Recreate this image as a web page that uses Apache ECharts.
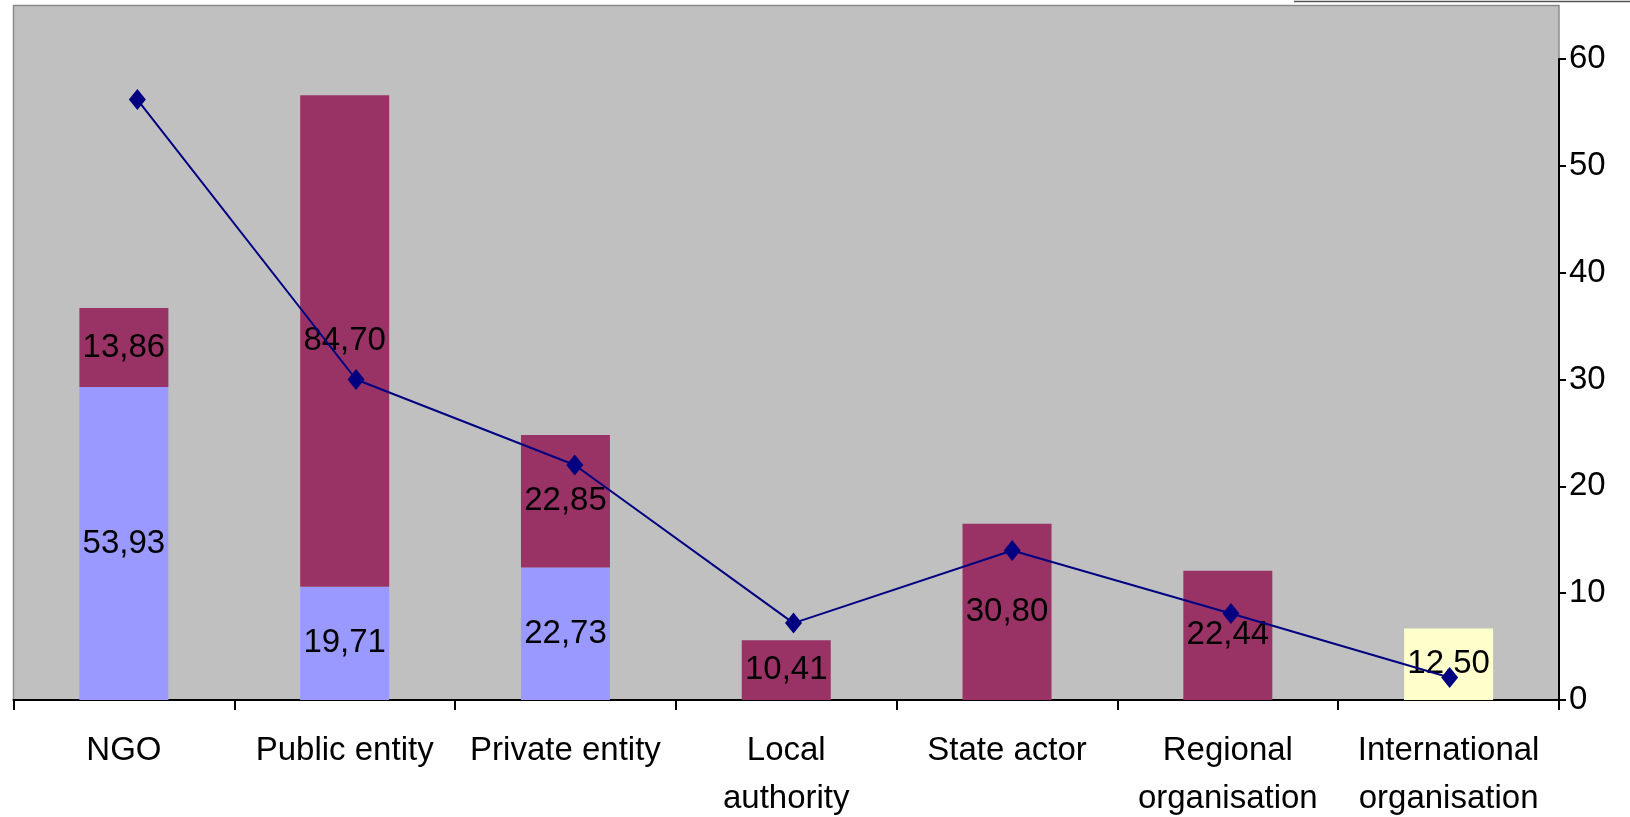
<!DOCTYPE html>
<html>
<head>
<meta charset="utf-8">
<script src="https://cdn.jsdelivr.net/npm/echarts@6/dist/echarts.min.js"></script>
<style>
  html, body { margin: 0; padding: 0; background: #fff; }
  #chart { width: 1630px; height: 817px; }
</style>
</head>
<body>
<div id="chart"></div>
<script>
const categories = ['NGO', 'Public entity', 'Private entity', 'Local\nauthority', 'State actor', 'Regional\norganisation', 'International\norganisation']

// bar segment heights
const lowerValues = [29.3, 10.6, 12.4, null, null, null, null]
const upperValues = [7.4, 46.0, 12.4, 5.6, 16.5, 12.1, null]
const intlValues = [null, null, null, null, null, null, 6.7]

// the printed labels do not match the heights, so they are kept as given
const lowerLabels = ['53,93', '19,71', '22,73', '', '', '', '']
const upperLabels = ['13,86', '84,70', '22,85', '10,41', '30,80', '22,44', '']
const intlLabels = ['', '', '', '', '', '', '12,50']

const lineValues = [56.2, 30.0, 22.0, 7.2, 14.0, 8.1, 2.1]

const yTicks = [0, 10, 20, 30, 40, 50, 60]

const font = 'Liberation Sans, Arial, sans-serif'

function barLabel(texts) {
  return {
    show: true,
    position: 'inside',
    color: '#000',
    fontFamily: font,
    fontSize: 33,
    formatter: (p) => texts[p.dataIndex],
  }
}

const chart = echarts.init(document.getElementById('chart'))

chart.setOption({
  animation: false,
  backgroundColor: '#fff',
  graphic: [
    {
      type: 'rect',
      z: -10,
      shape: { x: 13.5, y: 5.5, width: 1545.5, height: 694.5 },
      style: { fill: '#c0c0c0', stroke: '#8a8a8a', lineWidth: 1.5 },
    },
    {
      type: 'line',
      shape: { x1: 1294, y1: 1.5, x2: 1630, y2: 1.5 },
      style: { stroke: '#555', lineWidth: 1.5 },
    },
  ],
  grid: [
    { left: 13.5, right: 71, top: 59, bottom: 117, outerBoundsMode: 'none' },
    // the line sits on a slightly narrower secondary category axis
    { left: 28, right: 71, top: 59, bottom: 117, outerBoundsMode: 'none' },
  ],
  xAxis: [
    {
      type: 'category',
      gridIndex: 0,
      data: categories,
      boundaryGap: true,
      axisLine: { show: true, lineStyle: { color: '#000', width: 2 } },
      axisTick: { show: true, length: 10, lineStyle: { color: '#000', width: 2 } },
      axisLabel: {
        interval: 0,
        margin: 27,
        color: '#000',
        fontFamily: font,
        fontSize: 33,
        lineHeight: 48,
      },
    },
    {
      type: 'category',
      gridIndex: 1,
      data: categories,
      boundaryGap: true,
      show: false,
    },
  ],
  yAxis: [
    {
      type: 'value',
      gridIndex: 0,
      position: 'right',
      min: 0,
      max: yTicks[yTicks.length - 1],
      interval: 10,
      axisLine: { show: true, lineStyle: { color: '#000', width: 2 } },
      axisTick: { show: true, length: 7, lineStyle: { color: '#000', width: 2 } },
      splitLine: { show: false },
      axisLabel: {
        margin: 10,
        color: '#000',
        fontFamily: font,
        fontSize: 33,
      },
    },
    {
      type: 'value',
      gridIndex: 1,
      min: 0,
      max: yTicks[yTicks.length - 1],
      interval: 10,
      show: false,
    },
  ],
  series: [
    {
      type: 'bar',
      stack: 'total',
      barWidth: 89,
      itemStyle: { color: '#9999ff' },
      label: barLabel(lowerLabels),
      data: lowerValues,
    },
    {
      type: 'bar',
      stack: 'total',
      barWidth: 89,
      itemStyle: { color: '#993366' },
      label: barLabel(upperLabels),
      data: upperValues,
    },
    {
      type: 'bar',
      stack: 'total',
      barWidth: 89,
      itemStyle: { color: '#ffffcc' },
      label: barLabel(intlLabels),
      data: intlValues,
    },
    {
      type: 'line',
      xAxisIndex: 1,
      yAxisIndex: 1,
      z: 5,
      symbol: 'diamond',
      symbolSize: [17, 21],
      lineStyle: { color: '#000080', width: 2 },
      itemStyle: { color: '#000080' },
      data: lineValues,
    },
  ],
})
</script>
</body>
</html>
